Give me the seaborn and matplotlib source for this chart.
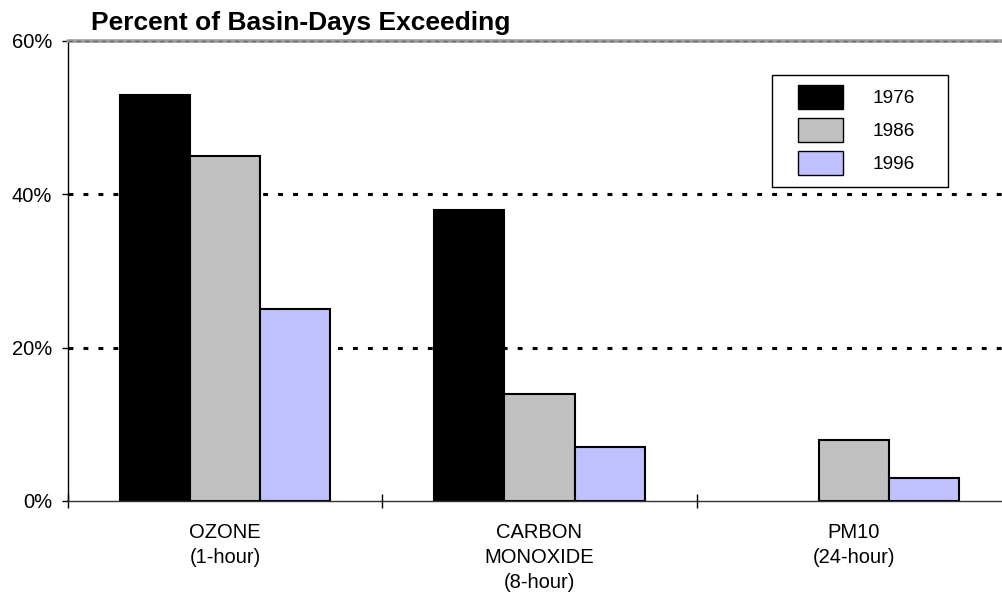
import matplotlib
matplotlib.use("Agg")
import matplotlib.pyplot as plt
import matplotlib.patches as mpatches
import seaborn as sns
import pandas as pd

# ---- data ----
categories = ["OZONE\n(1-hour)", "CARBON\nMONOXIDE\n(8-hour)", "PM10\n(24-hour)"]
years = ["1976", "1986", "1996"]
values_1976 = [53, 38, 0]
values_1986 = [45, 14, 8]
values_1996 = [25, 7, 3]
yticks = [0, 20, 40, 60]
ytick_labels = ["0%", "20%", "40%", "60%"]
title = "Percent of Basin-Days Exceeding"

colors = ["#000000", "#C0C0C0", "#C0C0FF"]

rows = []
for yr, vals in zip(years, [values_1976, values_1986, values_1996]):
    for c, v in zip(categories, vals):
        rows.append({"category": c, "year": yr, "value": v})
df = pd.DataFrame(rows)

sns.set_style("white")
plt.rcParams["font.family"] = ["Liberation Sans", "DejaVu Sans"]
plt.rcParams["text.color"] = "black"
plt.rcParams["xtick.color"] = "black"
plt.rcParams["ytick.color"] = "black"
plt.rcParams["axes.labelcolor"] = "black"

W, H = 1002, 596
fig = plt.figure(figsize=(W / 100, H / 100), dpi=100)
ax = fig.add_axes([68 / W, 1 - 501 / H, (1011 - 68) / W, (501 - 41) / H])

sns.barplot(data=df, x="category", y="value", hue="year", order=categories,
            hue_order=years, palette=colors, saturation=1, width=0.67,
            edgecolor="black", linewidth=1.5, ax=ax, legend=False)
for p in ax.patches:
    if p.get_height() == 0:
        p.set_linewidth(0)

ax.set_xlim(-0.5, 2.5)
ax.set_ylim(0, 60)
ax.set_xlabel("")
ax.set_ylabel("")

# grid lines
for yv in [20, 40]:
    ax.axhline(yv, color="black", lw=2.2, ls=(0, (1.6, 3.3)), zorder=0.5)
ax.axhline(60, color="#9a9a9a", lw=2.6, clip_on=False, zorder=3)
ax.axhline(60, color="#6a6a6a", lw=1.0, ls=(0, (3, 3)), clip_on=False, zorder=3.1)

for s in ["top", "right"]:
    ax.spines[s].set_visible(False)
ax.spines["left"].set_color("black")
ax.spines["left"].set_linewidth(1.0)
ax.spines["bottom"].set_color("#333333")
ax.spines["bottom"].set_linewidth(1.0)

ax.set_yticks(yticks)
ax.set_yticklabels(ytick_labels)
ax.tick_params(axis="y", direction="out", length=4.5, width=1, colors="black",
               labelsize=14.5, pad=7, left=True)
ax.set_xticks(range(len(categories)))
ax.set_xticklabels(categories)
ax.tick_params(axis="x", which="major", length=0, labelsize=14.5, pad=16,
               colors="black")
for t in ax.get_xticklabels():
    t.set_linespacing(1.4)
ax.set_xticks([-0.5, 0.5, 1.5, 2.5], minor=True)
ax.tick_params(axis="x", which="minor", direction="inout", length=10, width=1,
               color="black", bottom=True)

# legend
handles = [mpatches.Patch(facecolor=c, edgecolor="black", linewidth=1.0) for c in colors]
fig.patches.append(mpatches.Rectangle((772 / W, 1 - 187 / H), (948 - 772) / W, (187 - 75) / H,
                                      transform=fig.transFigure, facecolor="white",
                                      edgecolor="black", linewidth=1.0, zorder=5))
leg = fig.legend(handles, years, loc="upper left",
                 bbox_to_anchor=(798 / W, 1 - 85 / H), bbox_transform=fig.transFigure,
                 frameon=False, borderpad=0, borderaxespad=0, fontsize=13.7,
                 handlelength=2.37, handleheight=1.6, handletextpad=1.55,
                 labelspacing=0.45)
for t in leg.get_texts():
    t.set_color("black")
leg.set_zorder(6)

fig.text(91 / W, 1 - 30 / H, title, fontsize=19, fontweight="bold",
         ha="left", va="baseline", color="black")

fig.savefig("out.png", dpi=100)
